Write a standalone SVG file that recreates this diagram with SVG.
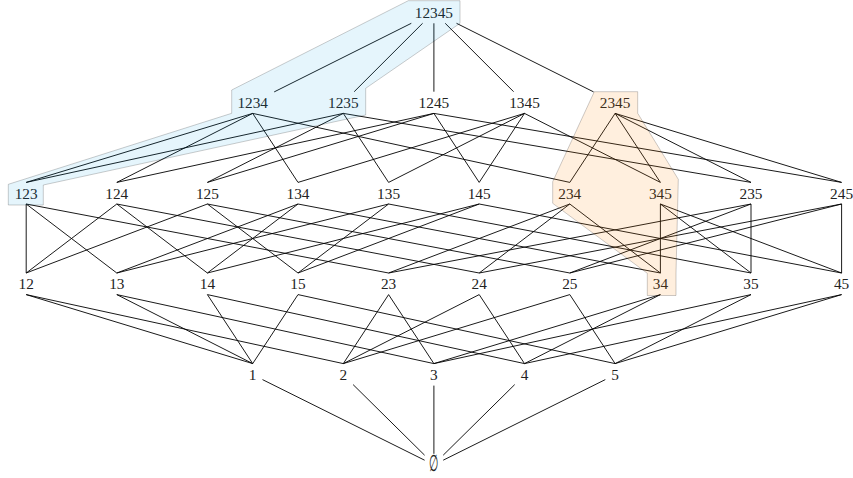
<svg xmlns="http://www.w3.org/2000/svg" width="853" height="478" viewBox="0 0 853 478">
<style>
.e line{stroke:#000;stroke-width:0.9;fill:none}
text{font-family:"Liberation Serif","DejaVu Serif",serif;font-size:15.3px;fill:#222;text-anchor:middle}
.hl{stroke:#000;stroke-opacity:0.2;stroke-width:1;stroke-linejoin:miter}
.blue{fill:#00a0e6;fill-opacity:0.1}
.orange{fill:#ff8000;fill-opacity:0.13}
</style>
<rect width="853" height="478" fill="#fff"/>
<g id="connectors" class="e">
<line x1="411.3" y1="23.3" x2="274.2" y2="91.9"/>
<line x1="422.6" y1="23.3" x2="354.2" y2="91.7"/>
<line x1="433.9" y1="23.3" x2="433.9" y2="91.7"/>
<line x1="445.2" y1="23.3" x2="513.6" y2="91.7"/>
<line x1="456.5" y1="23.3" x2="593.6" y2="91.9"/>
<line x1="252.7" y1="113.4" x2="26.2" y2="182.4"/>
<line x1="252.7" y1="113.4" x2="116.8" y2="182.4"/>
<line x1="252.7" y1="113.4" x2="298.0" y2="182.4"/>
<line x1="252.7" y1="113.4" x2="569.8" y2="182.4"/>
<line x1="343.3" y1="113.4" x2="26.2" y2="182.4"/>
<line x1="343.3" y1="113.4" x2="207.4" y2="182.4"/>
<line x1="343.3" y1="113.4" x2="388.6" y2="182.4"/>
<line x1="343.3" y1="113.4" x2="751.0" y2="182.4"/>
<line x1="433.9" y1="113.4" x2="116.8" y2="182.4"/>
<line x1="433.9" y1="113.4" x2="207.4" y2="182.4"/>
<line x1="433.9" y1="113.4" x2="479.2" y2="182.4"/>
<line x1="433.9" y1="113.4" x2="841.6" y2="182.4"/>
<line x1="524.5" y1="113.4" x2="298.0" y2="182.4"/>
<line x1="524.5" y1="113.4" x2="388.6" y2="182.4"/>
<line x1="524.5" y1="113.4" x2="479.2" y2="182.4"/>
<line x1="524.5" y1="113.4" x2="660.4" y2="182.4"/>
<line x1="615.1" y1="113.4" x2="569.8" y2="182.4"/>
<line x1="615.1" y1="113.4" x2="660.4" y2="182.4"/>
<line x1="615.1" y1="113.4" x2="751.0" y2="182.4"/>
<line x1="615.1" y1="113.4" x2="841.6" y2="182.4"/>
<line x1="26.2" y1="204" x2="26.2" y2="273"/>
<line x1="26.2" y1="204" x2="116.8" y2="273"/>
<line x1="26.2" y1="204" x2="388.6" y2="273"/>
<line x1="116.8" y1="204" x2="26.2" y2="273"/>
<line x1="116.8" y1="204" x2="207.4" y2="273"/>
<line x1="116.8" y1="204" x2="479.2" y2="273"/>
<line x1="207.4" y1="204" x2="26.2" y2="273"/>
<line x1="207.4" y1="204" x2="298.0" y2="273"/>
<line x1="207.4" y1="204" x2="569.8" y2="273"/>
<line x1="298.0" y1="204" x2="116.8" y2="273"/>
<line x1="298.0" y1="204" x2="207.4" y2="273"/>
<line x1="298.0" y1="204" x2="660.4" y2="273"/>
<line x1="388.6" y1="204" x2="116.8" y2="273"/>
<line x1="388.6" y1="204" x2="298.0" y2="273"/>
<line x1="388.6" y1="204" x2="751.0" y2="273"/>
<line x1="479.2" y1="204" x2="207.4" y2="273"/>
<line x1="479.2" y1="204" x2="298.0" y2="273"/>
<line x1="479.2" y1="204" x2="841.6" y2="273"/>
<line x1="569.8" y1="204" x2="388.6" y2="273"/>
<line x1="569.8" y1="204" x2="479.2" y2="273"/>
<line x1="569.8" y1="204" x2="660.4" y2="273"/>
<line x1="660.4" y1="204" x2="660.4" y2="273"/>
<line x1="660.4" y1="204" x2="751.0" y2="273"/>
<line x1="660.4" y1="204" x2="841.6" y2="273"/>
<line x1="751.0" y1="204" x2="388.6" y2="273"/>
<line x1="751.0" y1="204" x2="569.8" y2="273"/>
<line x1="751.0" y1="204" x2="751.0" y2="273"/>
<line x1="841.6" y1="204" x2="479.2" y2="273"/>
<line x1="841.6" y1="204" x2="569.8" y2="273"/>
<line x1="841.6" y1="204" x2="841.6" y2="273"/>
<line x1="26.2" y1="294.6" x2="252.7" y2="363.6"/>
<line x1="26.2" y1="294.6" x2="343.3" y2="363.6"/>
<line x1="116.8" y1="294.6" x2="252.7" y2="363.6"/>
<line x1="116.8" y1="294.6" x2="433.9" y2="363.6"/>
<line x1="207.4" y1="294.6" x2="252.7" y2="363.6"/>
<line x1="207.4" y1="294.6" x2="524.5" y2="363.6"/>
<line x1="298.0" y1="294.6" x2="252.7" y2="363.6"/>
<line x1="298.0" y1="294.6" x2="615.1" y2="363.6"/>
<line x1="388.6" y1="294.6" x2="343.3" y2="363.6"/>
<line x1="388.6" y1="294.6" x2="433.9" y2="363.6"/>
<line x1="479.2" y1="294.6" x2="343.3" y2="363.6"/>
<line x1="479.2" y1="294.6" x2="524.5" y2="363.6"/>
<line x1="569.8" y1="294.6" x2="343.3" y2="363.6"/>
<line x1="569.8" y1="294.6" x2="615.1" y2="363.6"/>
<line x1="660.4" y1="294.6" x2="433.9" y2="363.6"/>
<line x1="660.4" y1="294.6" x2="524.5" y2="363.6"/>
<line x1="751.0" y1="294.6" x2="433.9" y2="363.6"/>
<line x1="751.0" y1="294.6" x2="615.1" y2="363.6"/>
<line x1="841.6" y1="294.6" x2="524.5" y2="363.6"/>
<line x1="841.6" y1="294.6" x2="615.1" y2="363.6"/>
<line x1="262.5" y1="379.6" x2="424.6" y2="460.2"/>
<line x1="353.1" y1="384.6" x2="424.6" y2="455.2"/>
<line x1="433.9" y1="385.6" x2="433.9" y2="453.8"/>
<line x1="514.7" y1="384.6" x2="443.2" y2="455.2"/>
<line x1="605.3" y1="379.6" x2="443.2" y2="460.2"/>
</g>
<g id="n12345"><text x="433.9" y="17.8">12345</text></g>
<g id="n1234"><text x="252.7" y="108">1234</text></g>
<g id="n1235"><text x="343.3" y="108">1235</text></g>
<g id="n1245"><text x="433.9" y="108">1245</text></g>
<g id="n1345"><text x="524.5" y="108">1345</text></g>
<g id="n2345"><text x="615.1" y="108">2345</text></g>
<g id="n123"><text x="26.2" y="198.6">123</text></g>
<g id="n124"><text x="116.8" y="198.6">124</text></g>
<g id="n125"><text x="207.4" y="198.6">125</text></g>
<g id="n134"><text x="298.0" y="198.6">134</text></g>
<g id="n135"><text x="388.6" y="198.6">135</text></g>
<g id="n145"><text x="479.2" y="198.6">145</text></g>
<g id="n234"><text x="569.8" y="198.6">234</text></g>
<g id="n345"><text x="660.4" y="198.6">345</text></g>
<g id="n235"><text x="751.0" y="198.6">235</text></g>
<g id="n245"><text x="841.6" y="198.6">245</text></g>
<g id="n12"><text x="26.2" y="289.2">12</text></g>
<g id="n13"><text x="116.8" y="289.2">13</text></g>
<g id="n14"><text x="207.4" y="289.2">14</text></g>
<g id="n15"><text x="298.0" y="289.2">15</text></g>
<g id="n23"><text x="388.6" y="289.2">23</text></g>
<g id="n24"><text x="479.2" y="289.2">24</text></g>
<g id="n25"><text x="569.8" y="289.2">25</text></g>
<g id="n34"><text x="660.4" y="289.2">34</text></g>
<g id="n35"><text x="751.0" y="289.2">35</text></g>
<g id="n45"><text x="841.6" y="289.2">45</text></g>
<g id="n1"><text x="252.7" y="379.8">1</text></g>
<g id="n2"><text x="343.3" y="379.8">2</text></g>
<g id="n3"><text x="433.9" y="379.8">3</text></g>
<g id="n4"><text x="524.5" y="379.8">4</text></g>
<g id="n5"><text x="615.1" y="379.8">5</text></g>
<g id="nempty"><text transform="translate(433.9,470.5) scale(0.7,1.5)" x="0" y="0">∅</text></g>
<g id="highlights">
<polygon class="hl blue" points="408.3,0.7 460,0.7 460,23.3 365.7,88.3 365.7,115 43.3,185 43.3,205 8.3,205 8.3,184.3 231.7,113.3 231.7,90"/>
<polygon class="hl orange" points="594.3,91.7 637.7,91.7 637.7,113.3 678.3,179.3 676,273 676,295.5 647.3,295.5 647.3,273.3 552.7,203.3 552.7,181.7"/>
</g>
</svg>
